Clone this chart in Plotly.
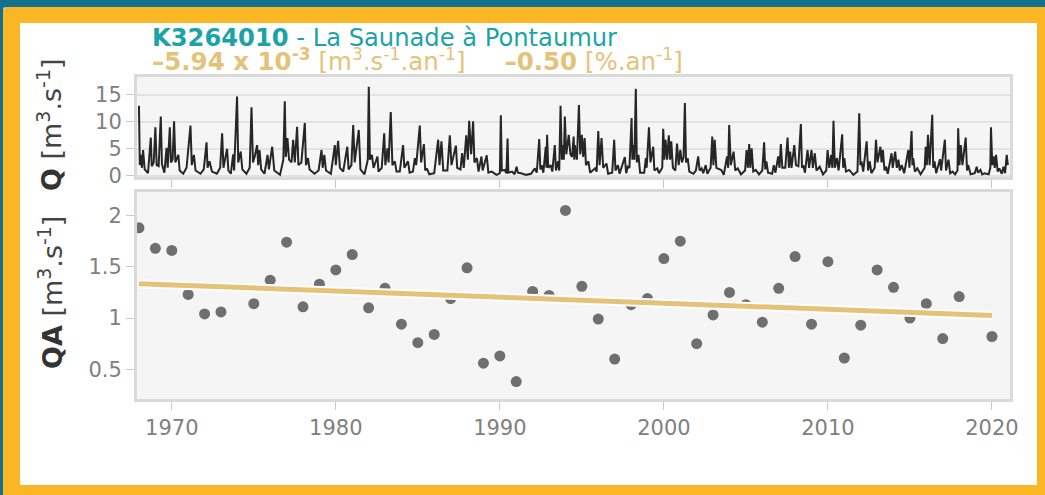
import plotly.graph_objects as go

# annual mean flow QA [m3/s]
qa_years = [1968, 1969, 1970, 1971, 1972, 1973, 1975, 1976, 1977, 1978,
            1979, 1980, 1981, 1982, 1983, 1984, 1985, 1986, 1987, 1988,
            1989, 1990, 1991, 1992, 1993, 1994, 1995, 1996, 1997, 1998,
            1999, 2000, 2001, 2002, 2003, 2004, 2005, 2006, 2007, 2008,
            2009, 2010, 2011, 2012, 2013, 2014, 2015, 2016, 2017, 2018,
            2020]
qa_values = [1.88, 1.68, 1.66, 1.23, 1.04, 1.06, 1.14, 1.37, 1.74, 1.11,
             1.33, 1.47, 1.62, 1.10, 1.29, 0.94, 0.76, 0.84, 1.19, 1.49,
             0.56, 0.63, 0.38, 1.26, 1.22, 2.05, 1.31, 0.99, 0.60, 1.13,
             1.19, 1.58, 1.75, 0.75, 1.03, 1.25, 1.13, 0.96, 1.29, 1.60,
             0.94, 1.55, 0.61, 0.93, 1.47, 1.30, 1.00, 1.14, 0.80, 1.21,
             0.82]

# Sen-like trend line end points
trend_years = [1968, 2020]
trend_values = [1.335, 1.026]

# daily flow Q [m3/s] (peaks and troughs)
q_points = [
    (1968.00, 13.0), (1968.05, 2.0), (1968.12, 3.9), (1968.18, 1.5), (1968.25, 4.8), (1968.35, 1.2),
    (1968.55, 0.5), (1968.72, 7.1), (1968.78, 1.8), (1968.90, 2.5), (1969.00, 9.0), (1969.08, 2.0),
    (1969.20, 1.8), (1969.33, 11.0), (1969.40, 2.2), (1969.55, 0.6), (1969.68, 5.2), (1969.75, 1.5),
    (1969.88, 9.0), (1969.95, 2.5), (1970.05, 3.0), (1970.14, 10.1), (1970.22, 2.5), (1970.40, 3.9),
    (1970.48, 1.0), (1970.70, 0.4), (1970.90, 1.5), (1971.14, 9.3), (1971.22, 2.0), (1971.35, 3.9),
    (1971.45, 1.0), (1971.75, 0.4), (1971.95, 1.2), (1972.12, 6.2), (1972.18, 1.5), (1972.30, 2.7),
    (1972.45, 0.8), (1972.75, 0.4), (1972.95, 1.5), (1973.07, 7.9), (1973.15, 1.5), (1973.37, 5.0),
    (1973.45, 1.0), (1973.60, 0.4), (1973.74, 4.0), (1973.80, 1.0), (1973.98, 14.7), (1974.05, 2.5),
    (1974.20, 4.5), (1974.30, 1.2), (1974.55, 0.4), (1974.75, 1.5), (1974.86, 12.7), (1974.95, 2.5),
    (1975.05, 3.5), (1975.20, 5.7), (1975.27, 2.0), (1975.35, 4.8), (1975.45, 1.2), (1975.65, 0.4),
    (1975.84, 3.9), (1975.92, 1.2), (1976.12, 5.4), (1976.25, 1.0), (1976.60, 0.2), (1976.80, 3.0),
    (1976.89, 13.8), (1976.95, 3.5), (1977.05, 7.0), (1977.15, 3.0), (1977.30, 2.5), (1977.40, 6.7),
    (1977.50, 2.5), (1977.64, 9.1), (1977.72, 2.0), (1977.90, 2.5), (1978.11, 9.8), (1978.18, 2.0),
    (1978.30, 3.3), (1978.40, 1.2), (1978.70, 0.4), (1978.95, 1.0), (1979.13, 4.8), (1979.20, 1.5),
    (1979.30, 3.9), (1979.40, 1.0), (1979.70, 0.4), (1979.94, 5.7), (1980.00, 2.0), (1980.14, 6.5),
    (1980.25, 1.5), (1980.45, 0.8), (1980.70, 5.4), (1980.78, 1.2), (1980.95, 2.0), (1981.06, 9.4),
    (1981.15, 2.5), (1981.40, 8.5), (1981.50, 1.2), (1981.75, 0.3), (1981.95, 3.0), (1982.01, 16.5),
    (1982.08, 3.0), (1982.20, 3.9), (1982.30, 1.5), (1982.54, 3.6), (1982.60, 0.8), (1982.80, 1.5),
    (1982.95, 7.9), (1983.02, 2.0), (1983.15, 5.1), (1983.22, 2.5), (1983.35, 11.8), (1983.45, 2.0),
    (1983.60, 2.7), (1983.70, 0.8), (1983.90, 0.8), (1984.10, 5.7), (1984.18, 1.5), (1984.40, 2.7),
    (1984.50, 0.6), (1984.70, 0.8), (1984.82, 3.3), (1984.90, 2.0), (1985.12, 9.3), (1985.20, 2.5),
    (1985.37, 5.9), (1985.45, 1.0), (1985.55, 1.4), (1985.70, 0.3), (1986.00, 0.5), (1986.24, 6.7),
    (1986.32, 2.0), (1986.44, 6.4), (1986.55, 1.0), (1986.80, 1.0), (1986.95, 7.5), (1987.05, 2.0),
    (1987.32, 5.6), (1987.40, 1.5), (1987.60, 1.2), (1987.70, 4.2), (1987.80, 1.5), (1987.95, 7.5),
    (1988.05, 3.0), (1988.13, 10.2), (1988.25, 4.0), (1988.37, 10.1), (1988.45, 2.5), (1988.60, 3.3),
    (1988.70, 0.8), (1988.88, 3.6), (1988.95, 1.0), (1989.20, 3.8), (1989.30, 0.6), (1989.50, 0.8),
    (1989.80, 0.2), (1990.00, 0.5), (1990.06, 11.2), (1990.12, 1.0), (1990.30, 1.1), (1990.40, 0.5),
    (1990.47, 6.9), (1990.52, 0.6), (1990.75, 0.8), (1990.90, 0.3), (1991.02, 1.7), (1991.10, 0.6),
    (1991.30, 0.5), (1991.60, 0.2), (1991.90, 0.4), (1992.13, 1.4), (1992.25, 0.6), (1992.40, 6.8),
    (1992.47, 1.2), (1992.55, 2.0), (1992.65, 0.6), (1992.80, 5.4), (1992.84, 1.5), (1992.88, 7.6),
    (1992.95, 1.5), (1993.10, 2.0), (1993.20, 0.8), (1993.35, 5.7), (1993.42, 1.0), (1993.55, 2.7),
    (1993.62, 1.0), (1993.70, 13.0), (1993.78, 3.0), (1993.85, 5.7), (1993.90, 3.0), (1993.96, 11.0),
    (1994.05, 4.0), (1994.20, 7.6), (1994.30, 4.0), (1994.40, 3.5), (1994.50, 7.3), (1994.54, 3.0),
    (1994.57, 5.7), (1994.70, 3.0), (1994.82, 13.1), (1994.90, 4.0), (1995.00, 7.6), (1995.08, 3.5),
    (1995.17, 7.0), (1995.25, 2.0), (1995.40, 2.7), (1995.50, 0.6), (1995.80, 1.4), (1995.90, 0.8),
    (1996.00, 8.3), (1996.08, 2.0), (1996.20, 7.0), (1996.30, 1.5), (1996.50, 2.3), (1996.60, 0.4),
    (1996.85, 0.6), (1996.97, 6.7), (1997.05, 1.0), (1997.20, 2.0), (1997.30, 0.4), (1997.62, 3.5),
    (1997.70, 0.5), (1997.80, 1.7), (1997.90, 1.5), (1998.03, 10.7), (1998.08, 3.0), (1998.10, 5.7),
    (1998.20, 3.0), (1998.29, 16.1), (1998.35, 2.5), (1998.45, 3.9), (1998.55, 0.6), (1998.80, 0.6),
    (1998.90, 3.3), (1998.95, 1.5), (1999.09, 9.0), (1999.18, 2.5), (1999.35, 5.4), (1999.42, 1.0),
    (1999.60, 1.4), (1999.70, 0.5), (1999.90, 1.5), (1999.96, 8.7), (2000.03, 3.0), (2000.10, 6.7),
    (2000.20, 3.0), (2000.30, 7.5), (2000.38, 3.0), (2000.45, 6.4), (2000.55, 1.5), (2000.70, 1.0),
    (2000.80, 6.0), (2000.90, 2.0), (2001.00, 4.8), (2001.10, 2.5), (2001.20, 3.5), (2001.28, 13.5),
    (2001.35, 2.5), (2001.45, 3.3), (2001.55, 0.8), (2001.80, 0.4), (2001.95, 1.0), (2002.09, 3.6),
    (2002.18, 1.0), (2002.30, 1.4), (2002.40, 0.5), (2002.55, 2.0), (2002.65, 0.4), (2002.85, 1.5),
    (2002.95, 7.3), (2003.02, 2.0), (2003.10, 6.7), (2003.20, 1.5), (2003.50, 1.1), (2003.65, 0.2),
    (2003.85, 3.6), (2003.92, 1.5), (2003.98, 9.4), (2004.08, 2.0), (2004.25, 4.5), (2004.35, 1.0),
    (2004.50, 1.4), (2004.70, 0.3), (2004.95, 1.0), (2005.04, 4.8), (2005.12, 1.5), (2005.20, 5.9),
    (2005.27, 1.5), (2005.35, 5.1), (2005.45, 0.8), (2005.60, 1.1), (2005.80, 0.3), (2006.00, 1.0),
    (2006.11, 6.2), (2006.18, 1.2), (2006.25, 2.7), (2006.35, 0.6), (2006.60, 0.4), (2006.70, 2.0),
    (2006.80, 0.6), (2006.97, 3.6), (2007.05, 1.5), (2007.13, 5.9), (2007.22, 1.5), (2007.40, 1.5),
    (2007.54, 7.1), (2007.62, 1.5), (2007.70, 4.5), (2007.78, 1.5), (2007.95, 5.7), (2008.05, 2.0),
    (2008.20, 1.8), (2008.35, 9.6), (2008.42, 1.5), (2008.50, 2.0), (2008.60, 0.6), (2008.76, 4.8),
    (2008.85, 1.5), (2009.00, 4.8), (2009.08, 1.5), (2009.20, 4.2), (2009.30, 1.0), (2009.50, 1.7),
    (2009.70, 0.3), (2009.90, 1.0), (2009.98, 4.8), (2010.08, 1.5), (2010.20, 3.9), (2010.27, 1.5),
    (2010.34, 10.2), (2010.42, 1.5), (2010.55, 3.3), (2010.65, 1.0), (2010.87, 7.7), (2010.93, 1.5),
    (2011.00, 3.3), (2011.10, 0.8), (2011.30, 1.1), (2011.55, 0.2), (2011.80, 0.8), (2011.91, 11.6),
    (2011.98, 2.0), (2012.05, 2.7), (2012.15, 0.8), (2012.36, 6.4), (2012.45, 1.0), (2012.55, 2.7),
    (2012.65, 0.5), (2012.85, 1.5), (2012.93, 6.7), (2013.02, 2.5), (2013.20, 5.4), (2013.27, 2.5),
    (2013.35, 4.8), (2013.45, 1.0), (2013.55, 1.7), (2013.65, 0.4), (2013.88, 4.2), (2013.95, 1.5),
    (2014.10, 4.5), (2014.20, 1.5), (2014.30, 3.0), (2014.38, 1.0), (2014.50, 2.0), (2014.65, 0.5),
    (2014.90, 4.8), (2014.97, 1.5), (2015.10, 8.3), (2015.15, 2.0), (2015.20, 3.3), (2015.30, 0.8),
    (2015.45, 1.4), (2015.65, 0.3), (2015.90, 1.5), (2015.96, 5.4), (2016.03, 2.0), (2016.10, 7.6),
    (2016.20, 2.0), (2016.36, 11.3), (2016.42, 1.5), (2016.50, 2.7), (2016.60, 0.5), (2016.83, 3.1),
    (2016.90, 1.0), (2017.13, 6.7), (2017.20, 1.0), (2017.35, 3.0), (2017.45, 0.5), (2017.60, 0.8),
    (2017.75, 0.3), (2017.90, 1.0), (2017.94, 8.8), (2018.02, 2.0), (2018.10, 5.7), (2018.20, 2.0),
    (2018.40, 7.1), (2018.48, 1.0), (2018.55, 2.0), (2018.70, 0.3), (2018.95, 0.5), (2019.07, 1.7),
    (2019.15, 0.6), (2019.30, 1.1), (2019.40, 0.3), (2019.55, 0.5), (2019.80, 0.3), (2019.90, 1.5),
    (2019.94, 9.0), (2020.02, 2.0), (2020.10, 3.6), (2020.17, 1.5), (2020.25, 3.9), (2020.35, 0.8),
    (2020.45, 1.4), (2020.60, 0.4), (2020.70, 1.7), (2020.80, 0.5), (2020.90, 3.9), (2020.97, 2.0),
]
q_years = [p[0] for p in q_points]
q_values = [p[1] for p in q_points]

W, H = 1045, 495
ML, MR, MT, MB = 137, 35, 77, 96
PW = W - ML - MR
PH = H - MT - MB


def xp(px):
    return (px - ML) / PW


def yp(py):
    return (H - MB - py) / PH


TEAL = '#14718c'
ORANGE = '#fbb625'
TITLE = '#1ba3a8'
TAN = '#e5c27a'
BORDER = '#dadada'
TICKC = '#808080'
FONT = 'DejaVu Sans'

fig = go.Figure()

fig.add_trace(go.Scatter(x=q_years, y=q_values, mode='lines',
                         line=dict(color='#262626', width=2),
                         xaxis='x2', yaxis='y2', showlegend=False))

fig.add_trace(go.Scatter(x=qa_years, y=qa_values, mode='markers',
                         marker=dict(color='#6f6f6f', size=11),
                         showlegend=False))
fig.add_trace(go.Scatter(x=trend_years, y=trend_values, mode='lines',
                         line=dict(color='white', width=9),
                         showlegend=False))
fig.add_trace(go.Scatter(x=trend_years, y=trend_values, mode='lines',
                         line=dict(color=TAN, width=5),
                         showlegend=False))

xrange = [1967.88, 2021.1]
axis_common = dict(showline=True, mirror=True, linecolor=BORDER, linewidth=3,
                   ticks='outside', tickcolor='#c8c8c8', ticklen=8, tickwidth=1,
                   tickfont=dict(family=FONT, size=21, color=TICKC),
                   zeroline=False)

fig.update_layout(
    width=W, height=H,
    margin=dict(l=ML, r=MR, t=MT, b=MB, pad=0),
    paper_bgcolor='white',
    plot_bgcolor='#f5f5f5',
    font=dict(family=FONT),
    xaxis=dict(range=xrange, domain=[0, 1], anchor='y', dtick=10, tick0=1970,
               showgrid=False, **axis_common),
    yaxis=dict(range=[0.21, 2.23], domain=[0, yp(192)], anchor='x',
               tickvals=[0.5, 1, 1.5, 2], ticktext=['0.5', '1', '1.5', '2'],
               showgrid=False, **axis_common),
    xaxis2=dict(range=xrange, domain=[0, 1], anchor='y2', dtick=10, tick0=1970,
                showticklabels=False, showgrid=False, matches='x', **axis_common),
    yaxis2=dict(range=[-0.2, 18.3], domain=[yp(177), 1], anchor='x2',
                tickvals=[0, 5, 10, 15], showgrid=True, gridcolor='#e2e2e2',
                gridwidth=1.5, **axis_common),
)

# frame: teal strips and orange border with rounded top-left corner
x0, y0, x1, y1 = xp(3), yp(7), xp(W), yp(H)
ix0, iy0, ix1, iy1 = xp(20), yp(23), xp(1037), yp(485)
rx, ry = 6 / PW, 6 / PH
frame_path = (f'M {x0 + rx},{y0} L {x1},{y0} L {x1},{y1} L {x0},{y1} L {x0},{y0 - ry} '
              f'Q {x0},{y0} {x0 + rx},{y0} Z '
              f'M {ix0},{iy0} L {ix1},{iy0} L {ix1},{iy1} L {ix0},{iy1} Z')
shapes = [
    dict(type='rect', xref='paper', yref='paper', x0=xp(0), x1=xp(W), y0=yp(0), y1=yp(7.5),
         fillcolor=TEAL, line_width=0, layer='below'),
    dict(type='rect', xref='paper', yref='paper', x0=xp(0), x1=xp(3.5), y0=yp(0), y1=yp(H),
         fillcolor=TEAL, line_width=0, layer='below'),
    dict(type='path', xref='paper', yref='paper', path=frame_path, fillrule='evenodd',
         fillcolor=ORANGE, line_width=0, layer='below'),
]
fig.update_layout(shapes=shapes)

title1 = '<b>K3264010</b> - La Saunade à Pontaumur'
title2 = ('<b>–5.94 x 10<sup>-3</sup></b> [m<sup>3</sup>.s<sup>-1</sup>.an<sup>-1</sup>]'
          '     <b>–0.50</b> [%.an<sup>-1</sup>]')
fig.add_annotation(text=title1, xref='paper', yref='paper', x=xp(150), y=yp(38),
                   xanchor='left', yanchor='middle', showarrow=False,
                   font=dict(family=FONT, size=24.2, color=TITLE))
fig.add_annotation(text=title2, xref='paper', yref='paper', x=xp(150), y=yp(60),
                   xanchor='left', yanchor='middle', showarrow=False,
                   font=dict(family=FONT, size=24.5, color=TAN))

ytitle_font = dict(family=FONT, size=27, color='#444444')
fig.add_annotation(text='<b><span style="color:#333">Q</span></b> [m<sup>3</sup>.s<sup>-1</sup>]',
                   xref='paper', yref='paper', x=xp(50), y=yp(125),
                   xanchor='center', yanchor='middle', textangle=-90, showarrow=False,
                   font=ytitle_font)
fig.add_annotation(text='<b><span style="color:#333">QA</span></b> [m<sup>3</sup>.s<sup>-1</sup>]',
                   xref='paper', yref='paper', x=xp(50), y=yp(293),
                   xanchor='center', yanchor='middle', textangle=-90, showarrow=False,
                   font=ytitle_font)

# the page has a default 8px body margin; remove it so the figure sits at 0,0
fig.write_html('out.html', config={'displayModeBar': False},
               post_script="document.body.style.margin='0';")
